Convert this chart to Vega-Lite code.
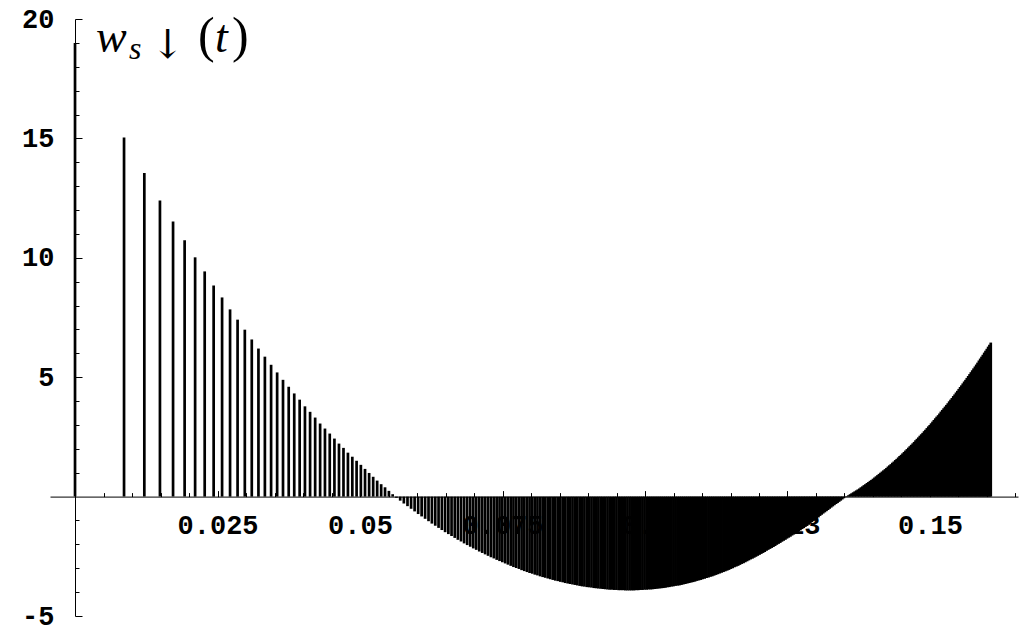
{
  "$schema": "https://vega.github.io/schema/vega-lite/v6.json",
  "width": 968,
  "height": 597,
  "autosize": {"type": "none"},
  "padding": {"left": 50, "top": 19, "right": 13, "bottom": 21},
  "background": "white",
  "config": {
    "view": {"stroke": null},
    "axis": {"labelFont": "Liberation Mono", "labelFontSize": 27, "labelFontWeight": "bold", "labelColor": "black", "grid": false, "tickColor": "black", "domainColor": "black", "tickWidth": 1, "domainWidth": 1, "zindex": 0}
  },
  "resolve": {"axis": {"x": "independent", "y": "independent"}},
  "layer": [
    {
      "data": {"values": [
        {"t":0,"w":19},{"t":0.0086,"w":15.04},{"t":0.01216,"w":13.55},{"t":0.0149,"w":12.4},{"t":0.0172,"w":11.52},{"t":0.01923,"w":10.73},{"t":0.02107,"w":10.02},{"t":0.02275,"w":9.43},{"t":0.02432,"w":8.84},{"t":0.0258,"w":8.34},
        {"t":0.0272,"w":7.84},{"t":0.02852,"w":7.41},{"t":0.02979,"w":6.99},{"t":0.03101,"w":6.58},{"t":0.03218,"w":6.2},{"t":0.03331,"w":5.86},{"t":0.0344,"w":5.52},{"t":0.03546,"w":5.2},{"t":0.03649,"w":4.89},{"t":0.03749,"w":4.6},
        {"t":0.03846,"w":4.32},{"t":0.03941,"w":4.06},{"t":0.04034,"w":3.78},{"t":0.04124,"w":3.55},{"t":0.04213,"w":3.31},{"t":0.043,"w":3.06},{"t":0.04385,"w":2.85},{"t":0.04469,"w":2.64},{"t":0.04551,"w":2.43},{"t":0.04631,"w":2.22},
        {"t":0.0471,"w":2.04},{"t":0.04788,"w":1.84},{"t":0.04865,"w":1.67},{"t":0.0494,"w":1.5},{"t":0.05015,"w":1.33},{"t":0.05088,"w":1.16},{"t":0.0516,"w":0.99},{"t":0.05231,"w":0.83},{"t":0.05301,"w":0.67},{"t":0.05371,"w":0.52},
        {"t":0.05439,"w":0.39},{"t":0.05507,"w":0.24},{"t":0.05573,"w":0.1},{"t":0.05639,"w":-0.05},{"t":0.05705,"w":-0.17},{"t":0.05769,"w":-0.29},{"t":0.05833,"w":-0.4},{"t":0.05896,"w":-0.51},{"t":0.05958,"w":-0.62},{"t":0.0602,"w":-0.73},
        {"t":0.06081,"w":-0.83},{"t":0.06142,"w":-0.93},{"t":0.06202,"w":-1.03},{"t":0.06261,"w":-1.13},{"t":0.0632,"w":-1.22},{"t":0.06378,"w":-1.31},{"t":0.06436,"w":-1.4},{"t":0.06493,"w":-1.49},{"t":0.0655,"w":-1.57},{"t":0.06606,"w":-1.65},
        {"t":0.06662,"w":-1.73},{"t":0.06717,"w":-1.81},{"t":0.06772,"w":-1.88},{"t":0.06826,"w":-1.96},{"t":0.0688,"w":-2.03},{"t":0.06934,"w":-2.1},{"t":0.06987,"w":-2.17},{"t":0.07039,"w":-2.23},{"t":0.07092,"w":-2.3},{"t":0.07144,"w":-2.36},
        {"t":0.07195,"w":-2.42},{"t":0.07246,"w":-2.48},{"t":0.07297,"w":-2.54},{"t":0.07348,"w":-2.59},{"t":0.07398,"w":-2.65},{"t":0.07448,"w":-2.7},{"t":0.07497,"w":-2.75},{"t":0.07547,"w":-2.8},{"t":0.07595,"w":-2.85},{"t":0.07644,"w":-2.9},
        {"t":0.07692,"w":-2.95},{"t":0.0774,"w":-2.99},{"t":0.07788,"w":-3.03},{"t":0.07835,"w":-3.08},{"t":0.07882,"w":-3.12},{"t":0.07929,"w":-3.16},{"t":0.07975,"w":-3.2},{"t":0.08022,"w":-3.23},{"t":0.08067,"w":-3.27},{"t":0.08113,"w":-3.3},
        {"t":0.08159,"w":-3.34},{"t":0.08204,"w":-3.37},{"t":0.08249,"w":-3.4},{"t":0.08294,"w":-3.43},{"t":0.08338,"w":-3.46},{"t":0.08382,"w":-3.49},{"t":0.08426,"w":-3.52},{"t":0.0847,"w":-3.54},{"t":0.08514,"w":-3.57},{"t":0.08557,"w":-3.59},
        {"t":0.086,"w":-3.62},{"t":0.08643,"w":-3.64},{"t":0.08686,"w":-3.66},{"t":0.08728,"w":-3.68},{"t":0.0877,"w":-3.7},{"t":0.08812,"w":-3.72},{"t":0.08854,"w":-3.74},{"t":0.08896,"w":-3.76},{"t":0.08937,"w":-3.77},{"t":0.08979,"w":-3.79},
        {"t":0.0902,"w":-3.8},{"t":0.09061,"w":-3.81},{"t":0.09101,"w":-3.83},{"t":0.09142,"w":-3.84},{"t":0.09182,"w":-3.85},{"t":0.09222,"w":-3.86},{"t":0.09262,"w":-3.87},{"t":0.09302,"w":-3.88},{"t":0.09342,"w":-3.89},{"t":0.09381,"w":-3.9},
        {"t":0.09421,"w":-3.9},{"t":0.0946,"w":-3.91},{"t":0.09499,"w":-3.91},{"t":0.09538,"w":-3.92},{"t":0.09577,"w":-3.92},{"t":0.09615,"w":-3.92},{"t":0.09654,"w":-3.93},{"t":0.09692,"w":-3.93},{"t":0.0973,"w":-3.93},{"t":0.09768,"w":-3.93},
        {"t":0.09806,"w":-3.93},{"t":0.09843,"w":-3.92},{"t":0.09881,"w":-3.92},{"t":0.09918,"w":-3.91},{"t":0.09955,"w":-3.91},{"t":0.09992,"w":-3.9},{"t":0.10029,"w":-3.9},{"t":0.10066,"w":-3.89},{"t":0.10103,"w":-3.89},{"t":0.10139,"w":-3.88},
        {"t":0.10176,"w":-3.87},{"t":0.10212,"w":-3.86},{"t":0.10248,"w":-3.85},{"t":0.10284,"w":-3.84},{"t":0.1032,"w":-3.83},{"t":0.10356,"w":-3.82},{"t":0.10391,"w":-3.8},{"t":0.10427,"w":-3.79},{"t":0.10462,"w":-3.77},{"t":0.10498,"w":-3.76},
        {"t":0.10533,"w":-3.74},{"t":0.10568,"w":-3.73},{"t":0.10603,"w":-3.72},{"t":0.10638,"w":-3.7},{"t":0.10672,"w":-3.68},{"t":0.10707,"w":-3.66},{"t":0.10741,"w":-3.64},{"t":0.10776,"w":-3.62},{"t":0.1081,"w":-3.6},{"t":0.10844,"w":-3.58},
        {"t":0.10878,"w":-3.56},{"t":0.10912,"w":-3.53},{"t":0.10946,"w":-3.51},{"t":0.1098,"w":-3.49},{"t":0.11013,"w":-3.46},{"t":0.11047,"w":-3.44},{"t":0.1108,"w":-3.41},{"t":0.11114,"w":-3.39},{"t":0.11147,"w":-3.36},{"t":0.1118,"w":-3.34},
        {"t":0.11213,"w":-3.31},{"t":0.11246,"w":-3.28},{"t":0.11279,"w":-3.25},{"t":0.11312,"w":-3.22},{"t":0.11344,"w":-3.19},{"t":0.11377,"w":-3.16},{"t":0.11409,"w":-3.13},{"t":0.11442,"w":-3.1},{"t":0.11474,"w":-3.07},{"t":0.11506,"w":-3.03},
        {"t":0.11538,"w":-3.0},{"t":0.1157,"w":-2.96},{"t":0.11602,"w":-2.93},{"t":0.11634,"w":-2.9},{"t":0.11666,"w":-2.86},{"t":0.11697,"w":-2.82},{"t":0.11729,"w":-2.79},{"t":0.1176,"w":-2.75},{"t":0.11792,"w":-2.71},{"t":0.11823,"w":-2.67},
        {"t":0.11854,"w":-2.63},{"t":0.11885,"w":-2.6},{"t":0.11916,"w":-2.56},{"t":0.11947,"w":-2.52},{"t":0.11978,"w":-2.48},{"t":0.12009,"w":-2.44},{"t":0.1204,"w":-2.4},{"t":0.12071,"w":-2.36},{"t":0.12101,"w":-2.32},{"t":0.12132,"w":-2.27},
        {"t":0.12162,"w":-2.23},{"t":0.12193,"w":-2.19},{"t":0.12223,"w":-2.15},{"t":0.12253,"w":-2.11},{"t":0.12283,"w":-2.07},{"t":0.12313,"w":-2.02},{"t":0.12343,"w":-1.98},{"t":0.12373,"w":-1.94},{"t":0.12403,"w":-1.89},{"t":0.12433,"w":-1.85},
        {"t":0.12463,"w":-1.81},{"t":0.12492,"w":-1.76},{"t":0.12522,"w":-1.72},{"t":0.12551,"w":-1.68},{"t":0.12581,"w":-1.63},{"t":0.1261,"w":-1.59},{"t":0.12639,"w":-1.54},{"t":0.12669,"w":-1.5},{"t":0.12698,"w":-1.45},{"t":0.12727,"w":-1.41},
        {"t":0.12756,"w":-1.36},{"t":0.12785,"w":-1.32},{"t":0.12814,"w":-1.27},{"t":0.12843,"w":-1.23},{"t":0.12871,"w":-1.18},{"t":0.129,"w":-1.13},{"t":0.12929,"w":-1.07},{"t":0.12957,"w":-1.02},{"t":0.12986,"w":-0.97},{"t":0.13014,"w":-0.92},
        {"t":0.13043,"w":-0.87},{"t":0.13071,"w":-0.81},{"t":0.13099,"w":-0.76},{"t":0.13127,"w":-0.71},{"t":0.13156,"w":-0.66},{"t":0.13184,"w":-0.61},{"t":0.13212,"w":-0.56},{"t":0.1324,"w":-0.51},{"t":0.13267,"w":-0.46},{"t":0.13295,"w":-0.41},
        {"t":0.13323,"w":-0.36},{"t":0.13351,"w":-0.31},{"t":0.13378,"w":-0.27},{"t":0.13406,"w":-0.22},{"t":0.13434,"w":-0.17},{"t":0.13461,"w":-0.12},{"t":0.13489,"w":-0.07},{"t":0.13516,"w":-0.02},{"t":0.13543,"w":0.02},{"t":0.13571,"w":0.06},
        {"t":0.13598,"w":0.1},{"t":0.13625,"w":0.14},{"t":0.13652,"w":0.18},{"t":0.13679,"w":0.22},{"t":0.13706,"w":0.26},{"t":0.13733,"w":0.3},{"t":0.1376,"w":0.34},{"t":0.13787,"w":0.39},{"t":0.13814,"w":0.43},{"t":0.1384,"w":0.48},
        {"t":0.13867,"w":0.52},{"t":0.13894,"w":0.57},{"t":0.1392,"w":0.61},{"t":0.13947,"w":0.66},{"t":0.13973,"w":0.7},{"t":0.14,"w":0.75},{"t":0.14026,"w":0.8},{"t":0.14052,"w":0.85},{"t":0.14079,"w":0.9},{"t":0.14105,"w":0.95},
        {"t":0.14131,"w":1.0},{"t":0.14157,"w":1.05},{"t":0.14183,"w":1.1},{"t":0.1421,"w":1.15},{"t":0.14236,"w":1.2},{"t":0.14262,"w":1.26},{"t":0.14287,"w":1.31},{"t":0.14313,"w":1.36},{"t":0.14339,"w":1.42},{"t":0.14365,"w":1.47},
        {"t":0.14391,"w":1.53},{"t":0.14416,"w":1.58},{"t":0.14442,"w":1.64},{"t":0.14467,"w":1.7},{"t":0.14493,"w":1.75},{"t":0.14518,"w":1.81},{"t":0.14544,"w":1.87},{"t":0.14569,"w":1.93},{"t":0.14595,"w":1.99},{"t":0.1462,"w":2.05},
        {"t":0.14645,"w":2.11},{"t":0.1467,"w":2.17},{"t":0.14696,"w":2.23},{"t":0.14721,"w":2.29},{"t":0.14746,"w":2.36},{"t":0.14771,"w":2.42},{"t":0.14796,"w":2.48},{"t":0.14821,"w":2.55},{"t":0.14846,"w":2.61},{"t":0.14871,"w":2.67},
        {"t":0.14896,"w":2.74},{"t":0.1492,"w":2.8},{"t":0.14945,"w":2.87},{"t":0.1497,"w":2.94},{"t":0.14995,"w":3.0},{"t":0.15019,"w":3.07},{"t":0.15044,"w":3.14},{"t":0.15068,"w":3.21},{"t":0.15093,"w":3.28},{"t":0.15117,"w":3.35},
        {"t":0.15142,"w":3.41},{"t":0.15166,"w":3.48},{"t":0.1519,"w":3.56},{"t":0.15215,"w":3.63},{"t":0.15239,"w":3.7},{"t":0.15263,"w":3.77},{"t":0.15288,"w":3.84},{"t":0.15312,"w":3.91},{"t":0.15336,"w":3.99},{"t":0.1536,"w":4.06},
        {"t":0.15384,"w":4.13},{"t":0.15408,"w":4.21},{"t":0.15432,"w":4.28},{"t":0.15456,"w":4.36},{"t":0.1548,"w":4.43},{"t":0.15504,"w":4.51},{"t":0.15528,"w":4.59},{"t":0.15551,"w":4.66},{"t":0.15575,"w":4.74},{"t":0.15599,"w":4.82},
        {"t":0.15623,"w":4.89},{"t":0.15646,"w":4.97},{"t":0.1567,"w":5.05},{"t":0.15694,"w":5.13},{"t":0.15717,"w":5.21},{"t":0.15741,"w":5.29},{"t":0.15764,"w":5.37},{"t":0.15788,"w":5.45},{"t":0.15811,"w":5.53},{"t":0.15834,"w":5.61},
        {"t":0.15858,"w":5.7},{"t":0.15881,"w":5.78},{"t":0.15904,"w":5.86},{"t":0.15927,"w":5.94},{"t":0.15951,"w":6.03},{"t":0.15974,"w":6.11},{"t":0.15997,"w":6.19},{"t":0.1602,"w":6.28},{"t":0.16043,"w":6.36},{"t":0.16066,"w":6.45}
      ]},
      "mark": {"type": "rule", "color": "black", "strokeWidth": 2.7},
      "encoding": {
        "x": {"field": "t", "type": "quantitative",
          "scale": {"domain": [-0.00439, 0.16544], "nice": false, "zero": false},
          "axis": {"orient": "bottom", "offset": -119.4, "title": null, "labels": false, "tickSize": -4, "domain": true, "grid": false, "zindex": 0,
            "values": [0.005,0.01,0.015,0.02,0.025,0.03,0.035,0.04,0.045,0.05,0.055,0.06,0.065,0.07,0.075,0.08,0.085,0.09,0.095,0.1,0.105,0.11,0.115,0.12,0.125,0.13,0.135,0.14,0.145,0.15,0.155,0.16,0.165]}},
        "y": {"field": "w", "type": "quantitative",
          "scale": {"domain": [-5, 20], "nice": false, "zero": false},
          "axis": {"orient": "left", "offset": -25, "title": null, "labels": false, "tickSize": -4, "domain": true, "grid": false, "zindex": 0,
            "values": [-4,-3,-2,-1,1,2,3,4,6,7,8,9,11,12,13,14,16,17,18,19]}},
        "y2": {"datum": 0}
      }
    },
    {
      "data": {"values": [{}]},
      "mark": {"type": "text", "text": "w", "font": "Liberation Serif", "fontSize": 46, "fontStyle": "italic", "align": "left", "baseline": "alphabetic", "color": "black"},
      "encoding": {
        "x": {"datum": 0.003684, "type": "quantitative",
          "scale": {"domain": [-0.00439, 0.16544], "nice": false, "zero": false},
          "axis": {"orient": "bottom", "offset": -119.4, "title": null, "ticks": false, "domain": false, "grid": false, "labelPadding": 16, "labelFlush": false, "labelOverlap": false, "format": "~g", "zindex": 0,
            "values": [0.025, 0.05, 0.075, 0.1, 0.125, 0.15]}},
        "y": {"datum": 18.62, "type": "quantitative",
          "scale": {"domain": [-5, 20], "nice": false, "zero": false},
          "axis": {"orient": "left", "offset": -25, "title": null, "ticks": false, "domain": false, "grid": false, "labelPadding": 21, "labelOverlap": false, "labelExpr": "replace(datum.label, '\u2212', '-')", "zindex": 0,
            "values": [-5, 5, 10, 15, 20]}}
      }
    },
    {
      "data": {"values": [{}]},
      "mark": {"type": "text", "text": "s", "font": "Liberation Serif", "fontSize": 32, "fontStyle": "italic", "align": "left", "baseline": "alphabetic", "dx": 33, "dy": 7, "color": "black"},
      "encoding": {
        "x": {"datum": 0.003684, "type": "quantitative",
          "scale": {"domain": [-0.00439, 0.16544], "nice": false, "zero": false},
          "axis": {"orient": "bottom", "offset": -119.4, "title": null, "labels": false, "tickSize": -6, "domain": false, "grid": false, "zindex": 0,
            "values": [0.025, 0.05, 0.075, 0.1, 0.125, 0.15]}},
        "y": {"datum": 18.62, "type": "quantitative",
          "scale": {"domain": [-5, 20], "nice": false, "zero": false},
          "axis": {"orient": "left", "offset": -25, "title": null, "labels": false, "tickSize": -7, "domain": false, "grid": false, "zindex": 0,
            "values": [-5, 5, 10, 15, 20]}}
      }
    },
    {
      "data": {"values": [{}]},
      "mark": {"type": "text", "text": "↓", "font": "DejaVu Serif", "fontSize": 40, "align": "left", "baseline": "alphabetic", "dx": 55, "dy": 6, "color": "black"},
      "encoding": {
        "x": {"datum": 0.003684, "type": "quantitative", "scale": {"domain": [-0.00439, 0.16544], "nice": false, "zero": false}, "axis": null},
        "y": {"datum": 18.62, "type": "quantitative", "scale": {"domain": [-5, 20], "nice": false, "zero": false}, "axis": null}
      }
    },
    {
      "data": {"values": [{}]},
      "mark": {"type": "text", "text": "(", "font": "Liberation Serif", "fontSize": 50, "align": "left", "baseline": "alphabetic", "dx": 102, "dy": 0, "color": "black"},
      "encoding": {
        "x": {"datum": 0.003684, "type": "quantitative", "scale": {"domain": [-0.00439, 0.16544], "nice": false, "zero": false}, "axis": null},
        "y": {"datum": 18.62, "type": "quantitative", "scale": {"domain": [-5, 20], "nice": false, "zero": false}, "axis": null}
      }
    },
    {
      "data": {"values": [{}]},
      "mark": {"type": "text", "text": "t", "font": "Liberation Serif", "fontSize": 46, "fontStyle": "italic", "align": "left", "baseline": "alphabetic", "dx": 119, "dy": 0, "color": "black"},
      "encoding": {
        "x": {"datum": 0.003684, "type": "quantitative", "scale": {"domain": [-0.00439, 0.16544], "nice": false, "zero": false}, "axis": null},
        "y": {"datum": 18.62, "type": "quantitative", "scale": {"domain": [-5, 20], "nice": false, "zero": false}, "axis": null}
      }
    },
    {
      "data": {"values": [{}]},
      "mark": {"type": "text", "text": ")", "font": "Liberation Serif", "fontSize": 50, "align": "left", "baseline": "alphabetic", "dx": 136, "dy": 0, "color": "black"},
      "encoding": {
        "x": {"datum": 0.003684, "type": "quantitative", "scale": {"domain": [-0.00439, 0.16544], "nice": false, "zero": false}, "axis": null},
        "y": {"datum": 18.62, "type": "quantitative", "scale": {"domain": [-5, 20], "nice": false, "zero": false}, "axis": null}
      }
    }
  ]
}
